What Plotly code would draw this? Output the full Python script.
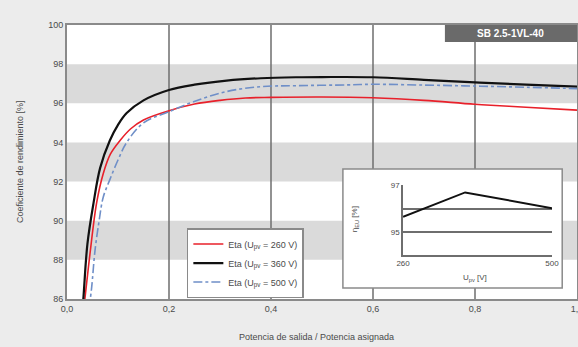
import plotly.graph_objects as go

# ---- data ----
x_260 = [0.030, 0.035, 0.045, 0.058, 0.071, 0.085, 0.104, 0.125, 0.15, 0.2, 0.25, 0.3, 0.35, 0.4, 0.5, 0.6, 0.7, 0.8, 0.9, 1.0]
eta_260 = [85.0, 86.0, 88.3, 90.9, 92.4, 93.4, 94.1, 94.7, 95.15, 95.62, 95.96, 96.15, 96.27, 96.3, 96.32, 96.28, 96.15, 95.95, 95.8, 95.65]

x_360 = [0.027, 0.032, 0.04, 0.052, 0.065, 0.084, 0.1, 0.117, 0.15, 0.2, 0.25, 0.313, 0.38, 0.45, 0.5, 0.6, 0.7, 0.8, 0.9, 1.0]
eta_360 = [84.5, 86.0, 88.8, 90.9, 92.7, 94.1, 94.9, 95.5, 96.15, 96.68, 96.95, 97.16, 97.28, 97.33, 97.34, 97.33, 97.2, 97.07, 96.95, 96.85]

x_500 = [0.043, 0.048, 0.055, 0.063, 0.071, 0.084, 0.1, 0.117, 0.15, 0.2, 0.248, 0.313, 0.38, 0.45, 0.55, 0.6, 0.7, 0.8, 0.9, 1.0]
eta_500 = [85.5, 86.5, 88.5, 90.0, 91.2, 92.1, 93.1, 94.0, 95.0, 95.57, 96.08, 96.6, 96.85, 96.9, 96.94, 96.97, 96.93, 96.88, 96.82, 96.75]

series_names = ["Eta (U<sub>pv</sub> = 260 V)", "Eta (U<sub>pv</sub> = 360 V)", "Eta (U<sub>pv</sub> = 500 V)"]

inset_u = [260, 360, 500]
inset_eta = [95.65, 96.7, 96.02]

x_ticks = [0.0, 0.2, 0.4, 0.6, 0.8, 1.0]
y_ticks = [86, 88, 90, 92, 94, 96, 98, 100]
bands = [(96, 98), (92, 94), (88, 90)]
grid_x = [0.2, 0.4, 0.6, 0.8]

title_text = "Curva de rendimiento"
model_text = "SB 2.5-1VL-40"

FONT = "Liberation Sans, Arial, sans-serif"
TXT = "#4a4a4a"

fig = go.Figure()

fig.add_trace(go.Scatter(x=x_260, y=eta_260, mode="lines", name=series_names[0],
                         line=dict(color="#e8202a", width=1.6), line_shape="spline"))
fig.add_trace(go.Scatter(x=x_360, y=eta_360, mode="lines", name=series_names[1],
                         line=dict(color="#111111", width=2.2), line_shape="spline"))
fig.add_trace(go.Scatter(x=x_500, y=eta_500, mode="lines", name=series_names[2],
                         line=dict(color="#6f8fc8", width=1.6, dash="dashdot"), line_shape="spline"))

fig.add_trace(go.Scatter(x=inset_u, y=inset_eta, mode="lines", showlegend=False,
                         line=dict(color="#111111", width=2), xaxis="x2", yaxis="y2"))

shapes = []
for lo, hi in bands:
    shapes.append(dict(type="rect", xref="paper", yref="y", x0=0, x1=1, y0=lo, y1=hi,
                       fillcolor="#dadada", line=dict(width=0), layer="below"))
for gx in grid_x:
    shapes.append(dict(type="line", xref="x", yref="paper", x0=gx, x1=gx, y0=0, y1=1,
                       line=dict(color="#6e6e6e", width=1.5), layer="below"))
# inset box
shapes.append(dict(type="rect", xref="paper", yref="paper", x0=0.541, x1=0.971, y0=0.040, y1=0.474,
                   fillcolor="white", line=dict(color="#8a8a8a", width=1.5), layer="below"))
# model label box
shapes.append(dict(type="rect", xref="paper", yref="paper", x0=0.741, x1=1.0, y0=0.938, y1=1.0,
                   fillcolor="#6a6a6a", line=dict(width=0), layer="above"))

annotations = [
    dict(text="<b>" + model_text + "</b>", xref="paper", yref="paper", x=0.87, y=0.969, showarrow=False,
         font=dict(family=FONT, size=10, color="white"), xanchor="center", yanchor="middle"),
    dict(text="<b>" + title_text + "</b>", xref="paper", yref="paper", x=0, y=1, xshift=-65, yshift=20,
         xanchor="left", yanchor="bottom", showarrow=False,
         font=dict(family=FONT, size=15, color="#555555")),
    dict(text="Coeficiente de rendimiento [%]", xref="paper", yref="paper", x=0, y=0.5,
         xshift=-47, textangle=-90, showarrow=False, xanchor="center", yanchor="middle",
         font=dict(family=FONT, size=9, color=TXT)),
    dict(text="Potencia de salida / Potencia asignada", xref="paper", yref="paper", x=0.49, y=0,
         yshift=-38, showarrow=False, xanchor="center", yanchor="middle",
         font=dict(family=FONT, size=9, color=TXT)),
    dict(text="η<sub>EU</sub> [%]", xref="paper", yref="paper", x=0.56, y=0.29,
         xshift=2, textangle=-90, showarrow=False, xanchor="center", yanchor="middle",
         font=dict(family=FONT, size=8, color=TXT)),
    dict(text="U<sub>pv</sub> [V]", xref="paper", yref="paper", x=0.80, y=0.075,
         showarrow=False, xanchor="center", yanchor="middle",
         font=dict(family=FONT, size=8, color=TXT)),
]

fig.update_layout(
    width=578, height=347,
    margin=dict(l=67, r=1, t=25, b=48, autoexpand=False),
    paper_bgcolor="#ececec", plot_bgcolor="white",
    separators=",.",
    font=dict(family=FONT, size=9, color=TXT),
    showlegend=True,
    legend=dict(x=0.235, y=0.259, xanchor="left", yanchor="top",
                bgcolor="white", bordercolor="#8a8a8a", borderwidth=1.5,
                font=dict(family=FONT, size=9, color=TXT), tracegroupgap=0,
                itemwidth=30),
    xaxis=dict(range=[0, 1], tickvals=x_ticks, tickformat=".1f", showgrid=False, zeroline=False,
               showline=True, mirror=True, linecolor="#8a8a8a", linewidth=2, automargin=False,
               ticklabeloverflow="allow",
               ticks="", tickfont=dict(size=9, color=TXT)),
    yaxis=dict(range=[86, 100], tickvals=y_ticks, showgrid=False, zeroline=False,
               showline=True, mirror=True, linecolor="#8a8a8a", linewidth=2, automargin=False,
               ticklabeloverflow="allow",
               ticks="", tickfont=dict(size=9, color=TXT)),
    xaxis2=dict(domain=[0.659, 0.951], range=[260, 500], anchor="y2", tickvals=[260, 500],
                showgrid=False, zeroline=False, showline=True, linecolor="#6e6e6e", linewidth=1.5,
                ticks="", tickfont=dict(size=8, color=TXT), automargin=False),
    yaxis2=dict(domain=[0.161, 0.416], range=[94, 97.02], anchor="x2", tickvals=[95, 96, 97],
                ticktext=["95", "", "97"], showgrid=True, gridcolor="#6e6e6e", gridwidth=1.5,
                zeroline=False, showline=True, linecolor="#6e6e6e", linewidth=1.5,
                ticks="", tickfont=dict(size=8, color=TXT), automargin=False),
    shapes=shapes,
    annotations=annotations,
)

fig.write_html("out.html", config={"displayModeBar": False},
               post_script="document.body.style.margin='0';document.body.style.background='#ececec';")
